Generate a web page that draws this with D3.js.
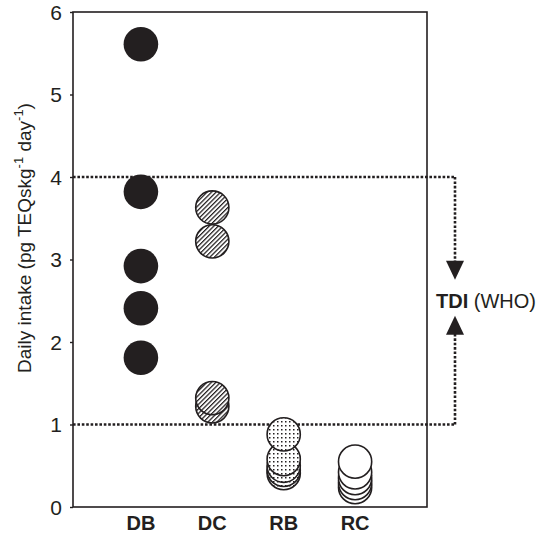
<!DOCTYPE html>
<html lang="en">
<head>
<meta charset="UTF-8">
<script src="https://d3js.org/d3.v7.min.js"></script>
<style>
  body { margin: 0; background: #fff; }
  svg text { font-family: "Liberation Sans", Arial, sans-serif; fill: #231f20; }
</style>
</head>
<body>
<div id="chart"></div>
<script>
// groups and their daily intake values (pg TEQ/kg/day)
const groups = ["DB", "DC", "RB", "RC"];
const dbValues = [5.61, 3.82, 2.92, 2.41, 1.81];
const dcValues = [3.63, 3.22, 1.32, 1.22];
const rbValues = [0.88, 0.58, 0.5, 0.45, 0.41];
const rcValues = [0.55, 0.42, 0.35, 0.29, 0.24];
const yTicks = [0, 1, 2, 3, 4, 5, 6];
const tdiRange = [1, 4];

const W = 543, H = 536;
const ink = "#231f20";

const svg = d3.select("#chart").append("svg")
  .attr("width", W).attr("height", H);

const defs = svg.append("defs");
const hatch = defs.append("pattern")
  .attr("id", "hatch").attr("patternUnits", "userSpaceOnUse")
  .attr("width", 3.2).attr("height", 3.2)
  .attr("patternTransform", "rotate(45)");
hatch.append("rect").attr("width", 3.2).attr("height", 3.2).attr("fill", "#fff");
hatch.append("line").attr("x1", 0.6).attr("y1", 0).attr("x2", 0.6).attr("y2", 3.2)
  .attr("stroke", ink).attr("stroke-width", 1.3);

const dots = defs.append("pattern")
  .attr("id", "dots").attr("patternUnits", "userSpaceOnUse")
  .attr("width", 4).attr("height", 4);
dots.append("rect").attr("width", 4).attr("height", 4).attr("fill", "#fff");
dots.append("rect").attr("x", 1).attr("y", 1).attr("width", 1.5).attr("height", 1.5).attr("fill", ink);

const mLeft = 73, mRight = 427, mTop = 12, mBottom = 507;

const y = d3.scaleLinear().domain([0, 6]).range([mBottom, mTop]);
const x = d3.scalePoint().domain(groups).range([69.5, 426.5]).padding(1);

// TDI dotted lines (behind points)
const xTdi = 455;
const dotted = svg.append("g")
  .attr("stroke", ink).attr("stroke-width", 2.6)
  .attr("stroke-dasharray", "2.6,1.8").attr("fill", "none");
tdiRange.forEach(v => {
  dotted.append("line").attr("x1", mLeft).attr("x2", xTdi)
    .attr("y1", y(v)).attr("y2", y(v));
});
const mid = (y(tdiRange[0]) + y(tdiRange[1])) / 2;
dotted.append("line").attr("x1", xTdi).attr("x2", xTdi)
  .attr("y1", y(tdiRange[1])).attr("y2", mid - 38);
dotted.append("line").attr("x1", xTdi).attr("x2", xTdi)
  .attr("y1", y(tdiRange[0])).attr("y2", mid + 33);

// arrow heads
svg.append("path")
  .attr("d", `M${xTdi - 9},${mid - 40}L${xTdi + 9},${mid - 40}L${xTdi},${mid - 21}Z`)
  .attr("fill", ink);
svg.append("path")
  .attr("d", `M${xTdi - 9},${mid + 34}L${xTdi + 9},${mid + 34}L${xTdi},${mid + 15}Z`)
  .attr("fill", ink);

const tdiText = svg.append("text")
  .attr("x", 436).attr("y", mid + 7)
  .style("font-size", "20px");
tdiText.append("tspan").attr("font-weight", "bold").text("TDI");
tdiText.append("tspan").text(" (WHO)");

// points
const series = [
  { key: "DB", values: dbValues, fill: ink, stroke: "none" },
  { key: "DC", values: dcValues, fill: "url(#hatch)", stroke: ink },
  { key: "RB", values: rbValues, fill: "url(#dots)", stroke: ink },
  { key: "RC", values: rcValues, fill: "#fff", stroke: ink }
];

series.forEach(s => {
  const vals = s.values.slice().sort((a, b) => a - b);
  svg.append("g").selectAll("circle")
    .data(vals)
    .join("circle")
    .attr("cx", x(s.key))
    .attr("cy", d => y(d))
    .attr("r", s.stroke === "none" ? 17.3 : 16.6)
    .attr("fill", s.fill)
    .attr("stroke", s.stroke)
    .attr("stroke-width", 1.6);
});

// frame
svg.append("rect")
  .attr("x", mLeft).attr("y", mTop)
  .attr("width", mRight - mLeft).attr("height", mBottom - mTop)
  .attr("fill", "none").attr("stroke", ink).attr("stroke-width", 1.6);

// y axis
const yAxis = svg.append("g")
  .attr("transform", `translate(${mLeft},0)`)
  .call(d3.axisLeft(y).tickValues(yTicks).tickSize(3).tickPadding(8).tickFormat(d3.format("d")));
yAxis.select(".domain").remove();
yAxis.selectAll("line").attr("stroke", ink).attr("stroke-width", 1.4);
yAxis.selectAll("text")
  .style("font-size", "21px")
  .style("font-family", "'Liberation Sans', Arial, sans-serif")
  .attr("fill", ink)
  .attr("dy", "0.35em");

// x category labels
svg.append("g").selectAll("text")
  .data(groups)
  .join("text")
  .attr("x", d => x(d))
  .attr("y", 530)
  .attr("text-anchor", "middle")
  .attr("font-weight", "bold")
  .style("font-size", "20px")
  .text(d => d);

// y label
const yl = svg.append("text")
  .attr("transform", "translate(31,238) rotate(-90)")
  .attr("text-anchor", "middle")
  .style("font-size", "19px");
yl.append("tspan").text("Daily intake (pg TEQskg");
yl.append("tspan").attr("dy", -8).style("font-size", "13px").text("-1");
yl.append("tspan").attr("dy", 8).text(" day");
yl.append("tspan").attr("dy", -8).style("font-size", "13px").text("-1");
yl.append("tspan").attr("dy", 8).text(")");
</script>
</body>
</html>
